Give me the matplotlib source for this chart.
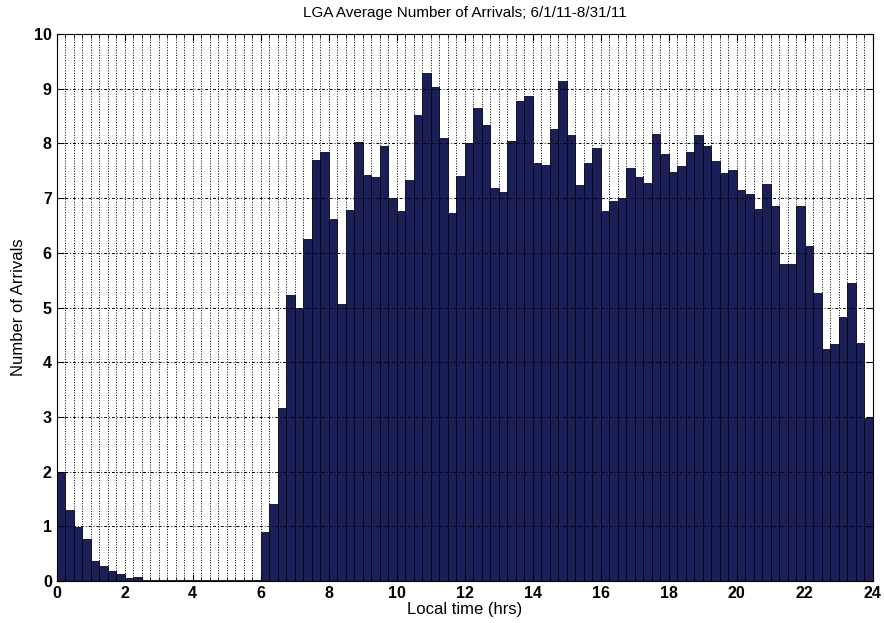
import numpy as np
import matplotlib.pyplot as plt
from matplotlib.ticker import MultipleLocator

# 15-minute bins, 0:00 to 24:00
bin_start = np.arange(96) * 0.25
arrivals = [
    2.00, 1.29, 0.99, 0.77, 0.37, 0.27, 0.18, 0.12,   # 0-2
    0.05, 0.07, 0.02, 0.01, 0.01, 0.01, 0.02, 0.01,   # 2-4
    0.01, 0.01, 0.01, 0.01, 0.01, 0.01, 0.01, 0.02,   # 4-6
    0.89, 1.41, 3.17, 5.22, 5.00, 6.26, 7.70, 7.85,   # 6-8
    6.62, 5.07, 6.79, 8.03, 7.42, 7.39, 7.95, 7.00,   # 8-10
    6.76, 7.33, 8.52, 9.29, 9.03, 8.09, 6.73, 7.41,   # 10-12
    8.00, 8.65, 8.33, 7.18, 7.11, 8.04, 8.77, 8.86,   # 12-14
    7.64, 7.61, 8.27, 9.15, 8.15, 7.24, 7.65, 7.92,   # 14-16
    6.77, 6.95, 7.00, 7.55, 7.39, 7.28, 8.18, 7.80,   # 16-18
    7.48, 7.59, 7.85, 8.16, 7.95, 7.67, 7.45, 7.52,   # 18-20
    7.15, 7.07, 6.81, 7.25, 6.85, 5.79, 5.79, 6.85,   # 20-22
    6.12, 5.27, 4.25, 4.33, 4.83, 5.44, 4.35, 2.98,   # 22-24
]

plt.rcParams['font.family'] = ['Liberation Sans', 'DejaVu Sans']

fig = plt.figure(figsize=(8.84, 6.23), dpi=100)
ax = fig.add_axes([0.0641, 0.0674, 0.9231, 0.878])

ax.bar(bin_start, arrivals, width=0.25, align='edge',
       color='#1b1f58', edgecolor='#0a0a20', linewidth=0.6, zorder=1)

ax.set_xlim(0, 24)
ax.set_ylim(0, 10)
ax.xaxis.set_major_locator(MultipleLocator(2))
ax.xaxis.set_minor_locator(MultipleLocator(0.25))
ax.yaxis.set_major_locator(MultipleLocator(1))

ax.grid(True, which='minor', axis='x', linestyle=':', color='black', linewidth=0.7)
ax.grid(True, which='major', axis='x', linestyle=':', color='black', linewidth=0.7)
ax.grid(True, which='major', axis='y', linestyle=(0, (3, 2, 1, 2)), color='black', linewidth=0.7)
ax.set_axisbelow(False)

ax.tick_params(which='both', direction='in', top=True, right=True)
ax.tick_params(which='major', length=5, labelsize=11.5)
ax.tick_params(which='minor', length=3)
for lab in ax.get_xticklabels() + ax.get_yticklabels():
    lab.set_fontweight('bold')

ax.set_title('LGA Average Number of Arrivals; 6/1/11-8/31/11', fontsize=11, pad=12)
ax.set_xlabel('Local time (hrs)', fontsize=12, labelpad=1)
ax.set_ylabel('Number of Arrivals', fontsize=12, labelpad=6)

fig.savefig('out.png', dpi=100)
